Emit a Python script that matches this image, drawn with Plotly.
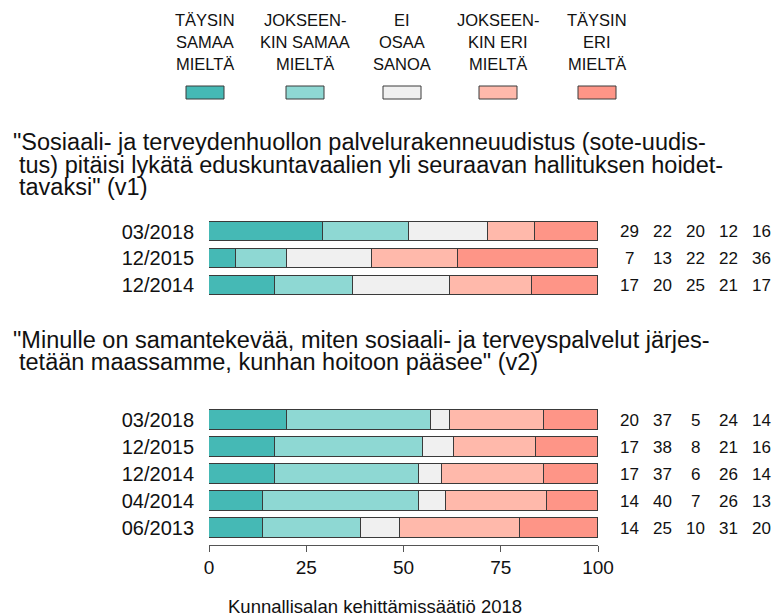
import plotly.graph_objects as go

W, H = 774, 616
L_PX, R_PX = 209, 598

categories_names = ["TÄYSIN SAMAA MIELTÄ", "JOKSEENKIN SAMAA MIELTÄ", "EI OSAA SANOA",
                    "JOKSEENKIN ERI MIELTÄ", "TÄYSIN ERI MIELTÄ"]
legend_headers = [["TÄYSIN", "SAMAA", "MIELTÄ"],
                  ["JOKSEEN-", "KIN SAMAA", "MIELTÄ"],
                  ["EI", "OSAA", "SANOA"],
                  ["JOKSEEN-", "KIN ERI", "MIELTÄ"],
                  ["TÄYSIN", "ERI", "MIELTÄ"]]
colors = ["#45B9B5", "#8ED8D3", "#F0F0F0", "#FFB9AB", "#FE9587"]

# Panel 1 (v1) — listed bottom to top
v1_periods = ["12/2014", "12/2015", "03/2018"]
v1_values = [
    [17, 20, 25, 21, 17],
    [7, 13, 22, 22, 36],
    [29, 22, 20, 12, 16],
]
# Panel 2 (v2) — listed bottom to top
v2_periods = ["06/2013", "04/2014", "12/2014", "12/2015", "03/2018"]
v2_values = [
    [14, 25, 10, 31, 20],
    [14, 40, 7, 26, 13],
    [17, 37, 6, 26, 14],
    [17, 38, 8, 21, 16],
    [20, 37, 5, 24, 14],
]
x_ticks = [0, 25, 50, 75, 100]

title1_lines = ['"Sosiaali- ja terveydenhuollon palvelurakenneuudistus (sote-uudis-',
                'tus) pitäisi lykätä eduskuntavaalien yli seuraavan hallituksen hoidet-',
                'tavaksi" (v1)']
title2_lines = ['"Minulle on samantekevää, miten sosiaali- ja terveyspalvelut järjes-',
                'tetään maassamme, kunhan hoitoon pääsee" (v2)']
footer = "Kunnallisalan kehittämissäätiö 2018"

FONT = "Liberation Sans, Arial, sans-serif"
TXT = "#111111"


def px2paper_x(px):
    return (px - L_PX) / (R_PX - L_PX)


def px2paper_y(py):
    return 1 - py / H


def shares(row):
    s = sum(row)
    return [v / s * 100 for v in row]


fig = go.Figure()
for k in range(5):
    fig.add_trace(go.Bar(
        y=v1_periods, x=[shares(r)[k] for r in v1_values], orientation="h",
        marker=dict(color=colors[k], line=dict(color="#3a3a3a", width=1)),
        width=0.72, name=categories_names[k], yaxis="y2", xaxis="x",
        showlegend=False, hoverinfo="skip"))
    fig.add_trace(go.Bar(
        y=v2_periods, x=[shares(r)[k] for r in v2_values], orientation="h",
        marker=dict(color=colors[k], line=dict(color="#3a3a3a", width=1)),
        width=0.72, name=categories_names[k], yaxis="y", xaxis="x",
        showlegend=False, hoverinfo="skip"))

annotations = []
val_cols_px = [629, 662, 695, 728, 761]
for yref, periods, values in [("y2", v1_periods, v1_values), ("y", v2_periods, v2_values)]:
    for p, row in zip(periods, values):
        for k, v in enumerate(row):
            annotations.append(dict(x=px2paper_x(val_cols_px[k]), xref="paper", y=p, yref=yref,
                                    text=str(v), showarrow=False, xanchor="center",
                                    font=dict(size=17, color=TXT, family=FONT)))

# Legend
leg_centers = [205, 305, 402, 498, 597]
line_y = [20, 42, 64]
shapes = []
for c, hdr, col in zip(leg_centers, legend_headers, colors):
    for ln, ypx in zip(hdr, line_y):
        annotations.append(dict(x=px2paper_x(c), xref="paper", y=px2paper_y(ypx), yref="paper",
                                text=ln, showarrow=False, xanchor="center", yanchor="middle",
                                font=dict(size=16.5, color=TXT, family=FONT)))
    shapes.append(dict(type="rect", xref="paper", yref="paper",
                       x0=px2paper_x(c - 19), x1=px2paper_x(c + 19),
                       y0=px2paper_y(99), y1=px2paper_y(86),
                       fillcolor=col, line=dict(color="#3a3a3a", width=1)))

# Titles
for i, (ln, ypx) in enumerate(zip(title1_lines, [142, 165, 187])):
    annotations.append(dict(x=px2paper_x(11 if i == 0 else 17), xref="paper", y=px2paper_y(ypx), yref="paper",
                            text=ln, showarrow=False, xanchor="left", yanchor="middle",
                            font=dict(size=23.5, color=TXT, family=FONT)))
for i, (ln, ypx) in enumerate(zip(title2_lines, [340, 362])):
    annotations.append(dict(x=px2paper_x(11 if i == 0 else 17), xref="paper", y=px2paper_y(ypx), yref="paper",
                            text=ln, showarrow=False, xanchor="left", yanchor="middle",
                            font=dict(size=23.5, color=TXT, family=FONT)))
annotations.append(dict(x=px2paper_x(375), xref="paper", y=px2paper_y(606), yref="paper",
                        text=footer, showarrow=False, xanchor="center", yanchor="middle",
                        font=dict(size=18.5, color=TXT, family=FONT)))

fig.update_layout(
    width=W, height=H, barmode="stack", bargap=0,
    margin=dict(l=L_PX, r=W - R_PX, t=0, b=0),
    paper_bgcolor="white", plot_bgcolor="white",
    font=dict(family=FONT, color=TXT),
    xaxis=dict(range=[0, 100], tickvals=x_ticks, ticktext=[str(t) for t in x_ticks],
               showgrid=False, zeroline=False, showline=True, linecolor="#555", linewidth=1,
               ticks="outside", ticklen=6, tickcolor="#555", anchor="y",
               tickfont=dict(size=19, color=TXT)),
    yaxis=dict(domain=[px2paper_y(544.5), px2paper_y(404.1)], range=[-0.6, 4.6],
               type="category", showgrid=False, zeroline=False, showline=False, ticks="",
               ticklabelstandoff=14, tickfont=dict(size=20, color=TXT)),
    yaxis2=dict(domain=[px2paper_y(298.75), px2paper_y(218.05)], range=[-0.5, 2.5],
                type="category", showgrid=False, zeroline=False, showline=False, ticks="",
                anchor="x", ticklabelstandoff=14, tickfont=dict(size=20, color=TXT)),
    annotations=annotations, shapes=shapes,
)

fig.write_html("out.html",
               config={"displayModeBar": False},
               post_script="document.body.style.margin='0px';"
                           "document.body.style.overflow='hidden';"
                           "document.documentElement.style.overflow='hidden';")
